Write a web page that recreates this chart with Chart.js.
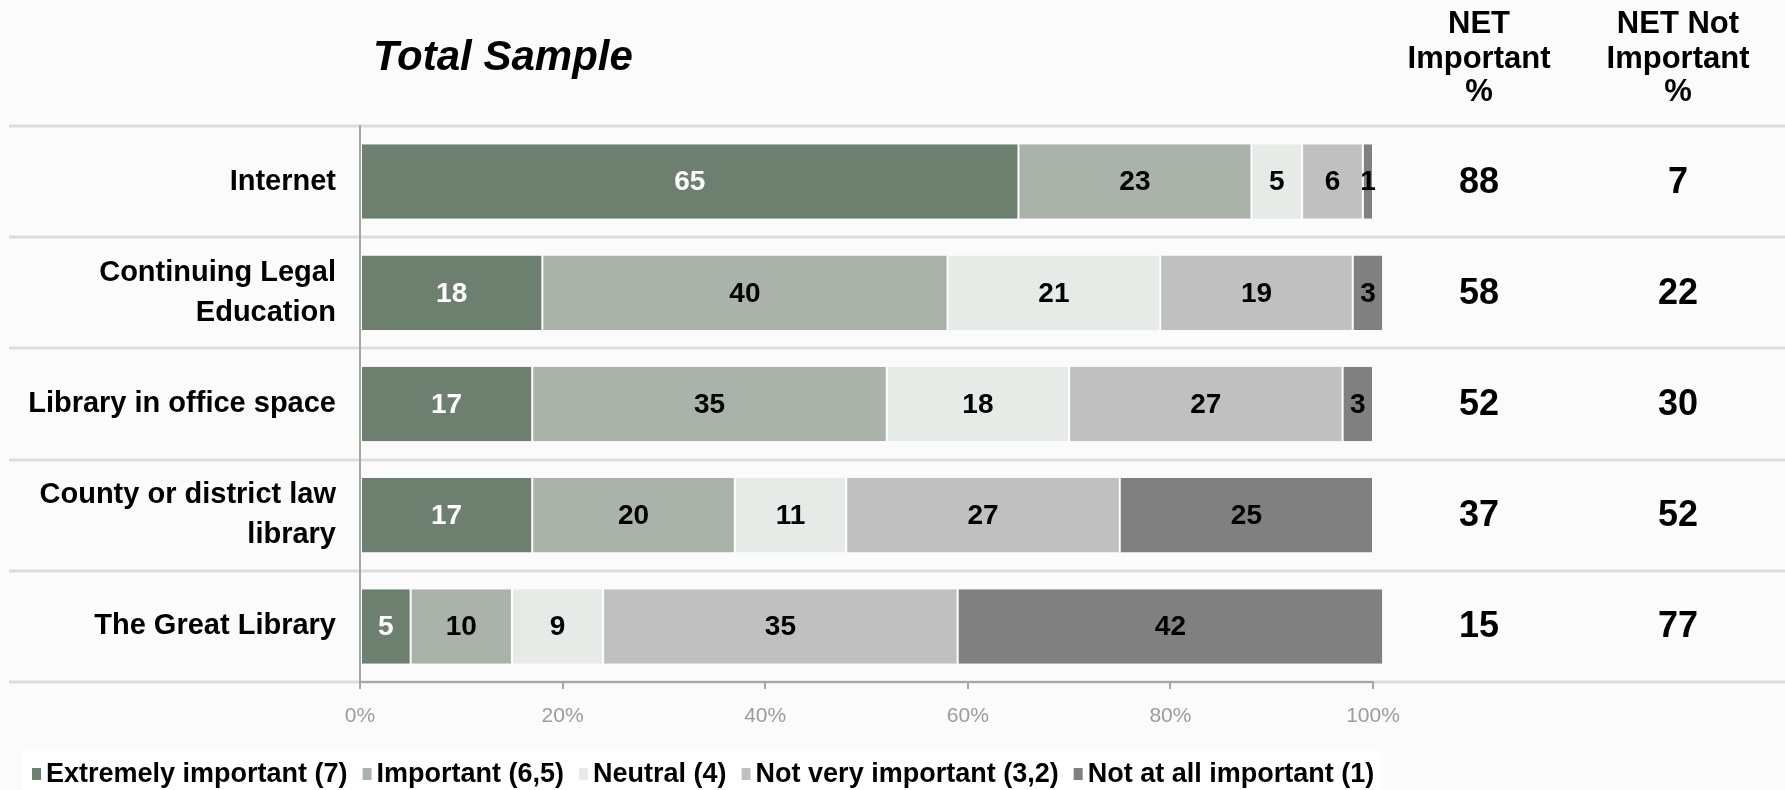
<!DOCTYPE html>
<html>
<head>
<meta charset="utf-8">
<title>Total Sample</title>
<script src="https://cdn.jsdelivr.net/npm/chart.js@4.4.1/dist/chart.umd.min.js"></script>
<style>
  html, body { margin: 0; padding: 0; background: #fbfbfb; }
  #wrap { width: 1785px; height: 790px; }
</style>
</head>
<body>
<div id="wrap"><canvas id="chart" width="1785" height="790"></canvas></div>
<script>
// ── Données ───────────────────────────────────────────────────────────────
var categories = [
    'Internet',
    ['Continuing Legal', 'Education'],
    'Library in office space',
    ['County or district law', 'library'],
    'The Great Library'
];
var seriesNames = [
    'Extremely important (7)',
    'Important (6,5)',
    'Neutral (4)',
    'Not very important (3,2)',
    'Not at all important (1)'
];
var extremely = [65, 18, 17, 17, 5];
var important = [23, 40, 35, 20, 10];
var neutral   = [5, 21, 18, 11, 9];
var notVery   = [6, 19, 27, 27, 35];
var notAtAll  = [1, 3, 3, 25, 42];

var netImportant    = [88, 58, 52, 37, 15];
var netNotImportant = [7, 22, 30, 52, 77];

var xTicks = [0, 20, 40, 60, 80, 100];

// ── Style ─────────────────────────────────────────────────────────────────
var FONT = "'Liberation Sans', Arial, sans-serif";
var colors     = ['#6d8070', '#aab3aa', '#e6ebe7', '#c0c0c0', '#808080'];
var textColors = ['#ffffff', '#000000', '#000000', '#000000', '#000000'];
var series     = [extremely, important, neutral, notVery, notAtAll];

var datasets = series.map(function (values, i) {
    return {
        label: seriesNames[i],
        data: values,
        backgroundColor: colors[i],
        borderColor: '#ffffff',
        borderWidth: { left: 1, right: 1, top: 0, bottom: 0 },
        borderSkipped: false,
        barPercentage: 0.67,
        categoryPercentage: 1,
        clip: false
    };
});

// ── Décor : séparateurs, titres, valeurs, légende ────────────────────────
var decor = {
    id: 'decor',
    beforeDraw: function (chart) {
        var ctx = chart.ctx;
        var y = chart.scales.y;
        ctx.save();
        ctx.fillStyle = '#fbfbfb';
        ctx.fillRect(0, 0, chart.width, chart.height);

        // bloc blanc de la légende
        ctx.fillStyle = '#ffffff';
        ctx.fillRect(22, 751, 1358, 39);

        // lignes de séparation entre les catégories
        var step = y.getPixelForValue(1) - y.getPixelForValue(0);
        ctx.strokeStyle = '#dddddd';
        ctx.lineWidth = 3;
        for (var i = 0; i <= categories.length; i++) {
            var yy = Math.round(y.getPixelForValue(0) - step / 2 + i * step);
            ctx.beginPath();
            ctx.moveTo(9, yy);
            ctx.lineTo(chart.width, yy);
            ctx.stroke();
        }
        ctx.restore();
    },
    afterDatasetsDraw: function (chart) {
        var ctx = chart.ctx;
        var y = chart.scales.y;
        ctx.save();

        // étiquettes dans les barres
        ctx.font = 'bold 28px ' + FONT;
        ctx.textAlign = 'center';
        ctx.textBaseline = 'middle';
        chart.data.datasets.forEach(function (ds, d) {
            var meta = chart.getDatasetMeta(d);
            ctx.fillStyle = textColors[d];
            meta.data.forEach(function (bar, i) {
                var p = bar.getProps(['x', 'base', 'y'], true);
                ctx.fillText(String(ds.data[i]), (p.x + p.base) / 2, p.y + 1);
            });
        });

        // colonnes NET
        var colX = [1479, 1678];
        ctx.font = 'bold 36px ' + FONT;
        ctx.fillStyle = '#000';
        for (var i = 0; i < categories.length; i++) {
            var yy = y.getPixelForValue(i) + 1;
            ctx.fillText(String(netImportant[i]), colX[0], yy);
            ctx.fillText(String(netNotImportant[i]), colX[1], yy);
        }

        // en-têtes
        ctx.font = 'bold 31px ' + FONT;
        ctx.textBaseline = 'alphabetic';
        var head1 = ['NET', 'Important', '%'];
        var head2 = ['NET Not', 'Important', '%'];
        var baselines = [33, 68, 101];
        for (var k = 0; k < 3; k++) {
            ctx.fillText(head1[k], colX[0], baselines[k]);
            ctx.fillText(head2[k], colX[1], baselines[k]);
        }

        // titre
        ctx.font = 'italic bold 42px ' + FONT;
        ctx.textAlign = 'left';
        ctx.fillText('Total Sample', 373, 70);

        // légende
        ctx.font = 'bold 27px ' + FONT;
        ctx.textBaseline = 'middle';
        var lx = 32, ly = 774;
        chart.data.datasets.forEach(function (ds, d) {
            ctx.fillStyle = colors[d];
            ctx.fillRect(lx, ly - 6, 9, 12);
            ctx.fillStyle = '#000';
            ctx.fillText(ds.label, lx + 14, ly + 1);
            lx += 14 + ctx.measureText(ds.label).width + 15;
        });

        ctx.restore();
    }
};

// ── Graphique ─────────────────────────────────────────────────────────────
new Chart(document.getElementById('chart'), {
    type: 'bar',
    data: { labels: categories, datasets: datasets },
    options: {
        indexAxis: 'y',
        responsive: false,
        animation: false,
        devicePixelRatio: 1,
        layout: { padding: { top: 126, right: 412, left: 0, bottom: 0 } },
        plugins: {
            legend: { display: false },
            tooltip: { enabled: false }
        },
        scales: {
            x: {
                stacked: true,
                min: xTicks[0],
                max: xTicks[xTicks.length - 1],
                afterBuildTicks: function (scale) {
                    scale.ticks = xTicks.map(function (v) { return { value: v }; });
                },
                ticks: {
                    callback: function (v) { return v + '%'; },
                    color: '#9c9c9c',
                    font: { family: FONT, size: 21 },
                    padding: 15,
                    maxRotation: 0
                },
                grid: {
                    drawOnChartArea: false,
                    drawTicks: true,
                    tickLength: 7,
                    color: '#a6a6a6',
                    lineWidth: 2
                },
                border: { color: '#a6a6a6', width: 2 },
                afterFit: function (scale) { scale.height = 108; }
            },
            y: {
                stacked: true,
                ticks: {
                    color: '#000',
                    font: { family: FONT, size: 29, weight: 'bold', lineHeight: 1.36 },
                    padding: 24
                },
                grid: { drawOnChartArea: false, drawTicks: false },
                border: { color: '#a6a6a6', width: 2 },
                afterFit: function (scale) { scale.width = 360; }
            }
        }
    },
    plugins: [decor]
});
</script>
</body>
</html>
